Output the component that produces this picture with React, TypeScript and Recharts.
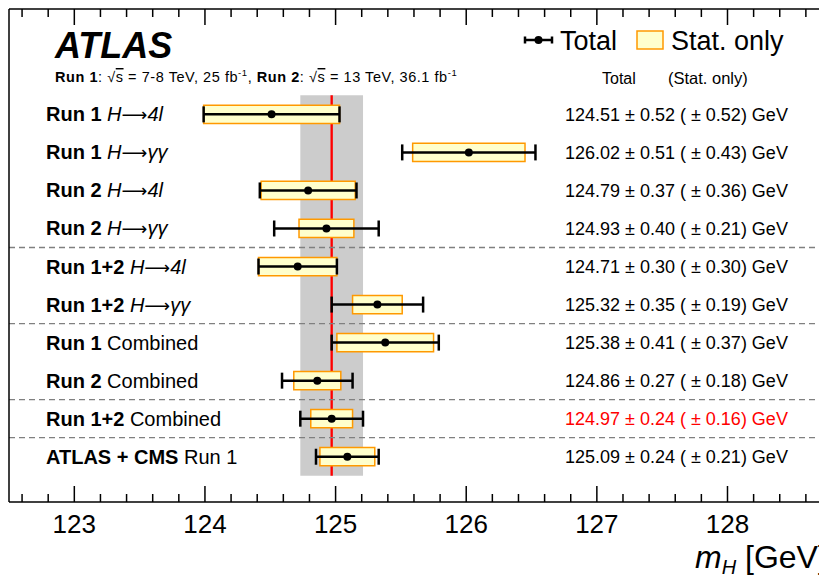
import React from 'react';
import {
  ComposedChart,
  XAxis,
  YAxis,
  Scatter,
  ErrorBar,
  ReferenceArea,
  ReferenceLine,
} from 'recharts';

// ---------------- data ----------------
const runLabels = [
  'Run 1',
  'Run 1',
  'Run 2',
  'Run 2',
  'Run 1+2',
  'Run 1+2',
  'Run 1',
  'Run 2',
  'Run 1+2',
  'ATLAS + CMS',
];
const channelHead = ['H', 'H', 'H', 'H', 'H', 'H', '', '', '', ''];
const channelTail = ['4l', '\u03b3\u03b3', '4l', '\u03b3\u03b3', '4l', '\u03b3\u03b3', 'Combined', 'Combined', 'Combined', 'Run 1'];
const centralValues = [124.51, 126.02, 124.79, 124.93, 124.71, 125.32, 125.38, 124.86, 124.97, 125.09];
const totalErrors = [0.52, 0.51, 0.37, 0.4, 0.3, 0.35, 0.41, 0.27, 0.24, 0.24];
const statErrors = [0.52, 0.43, 0.36, 0.21, 0.3, 0.19, 0.37, 0.18, 0.16, 0.21];
const rowIndex = [1, 2, 3, 4, 5, 6, 7, 8, 9, 10];
const separatorRows = [4.5, 6.5, 8.5, 9.5];
const highlightRow = 9; // Run 1+2 Combined (reference band)
const majorTicks = [123, 124, 125, 126, 127, 128];
const minorStep = 0.2;

const xDomain = [122.5, 128.8];
const yDomain = [-1.77, 11.19];

const CHART_W = 832;
const CHART_H = 576;
const MARGIN = { top: 8, right: 0, bottom: 73, left: 8 };
const AXIS_H = 1;
const PLOT_H = CHART_H - MARGIN.top - MARGIN.bottom - 2 * AXIS_H;

const FONT = '"Liberation Sans", Arial, Helvetica, sans-serif';

const allTicks: number[] = [];
for (let k = Math.ceil(xDomain[0] / minorStep); k * minorStep <= xDomain[1] + 1e-9; k++) {
  allTicks.push(Math.round(k * minorStep * 10) / 10);
}

const data = rowIndex.map((r, i) => ({
  x: centralValues[i],
  y: r,
  err: totalErrors[i],
}));

const fmt = (v: number) => v.toFixed(2);

const isMajor = (v: number) => majorTicks.some((m) => Math.abs(m - v) < 1e-6);

// bottom axis tick: inward tick mark + label, plus mirrored tick on the top frame
const FrameTick = (props: any) => {
  const { x, y, payload } = props;
  const v = payload.value;
  const major = isMajor(v);
  const len = major ? 16 : 8;
  const topY = y - PLOT_H;
  return (
    <g>
      <line x1={x} x2={x} y1={y} y2={y - len} stroke="#000" strokeWidth={1.5} />
      <line x1={x} x2={x} y1={topY} y2={topY + len} stroke="#000" strokeWidth={1.5} />
      {major && (
        <text x={x} y={y + 31} textAnchor="middle" fontSize={26} fontFamily={FONT} fill="#000">
          {Math.round(v)}
        </text>
      )}
    </g>
  );
};

const RowTick = (props: any) => {
  const { x, y, payload } = props;
  const i = rowIndex.indexOf(payload.value);
  if (i < 0) return null;
  const red = rowIndex[i] === highlightRow;
  const isDecay = channelHead[i] !== '';
  return (
    <g>
      <text x={x + 37} y={y + 7} fontSize={20} fontFamily={FONT} fill="#000" textAnchor="start">
        <tspan fontWeight="bold">{runLabels[i]}</tspan>
        {isDecay ? (
          <>
            <tspan fontStyle="italic">{' ' + channelHead[i]}</tspan>
            <tspan fontFamily='"DejaVu Sans", sans-serif' fontSize={18}>
              {'\u27f6'}
            </tspan>
            <tspan fontStyle="italic">{channelTail[i]}</tspan>
          </>
        ) : (
          <tspan>{' ' + channelTail[i]}</tspan>
        )}
      </text>
      <text
        x={x + 556}
        y={y + 6.5}
        fontSize={18}
        fontFamily={FONT}
        fill={red ? '#ff0000' : '#000'}
        textAnchor="start"
      >
        {`${fmt(centralValues[i])} \u00b1 ${fmt(totalErrors[i])} ( \u00b1 ${fmt(statErrors[i])}) GeV`}
      </text>
    </g>
  );
};

const Dot = (p: any) => <circle cx={p.cx} cy={p.cy} r={4} fill="#000" />;

const refIdx = rowIndex.indexOf(highlightRow);
const refValue = centralValues[refIdx];
const refErr = totalErrors[refIdx];
const refLineHalfWidth = 0.009;

export default function App() {
  return (
    <div
      style={{
        position: 'absolute',
        left: 0,
        top: 0,
        width: 819,
        height: 576,
        overflow: 'hidden',
        background: '#fff',
      }}
    >
      <ComposedChart width={CHART_W} height={CHART_H} data={data} margin={MARGIN}>
        <XAxis
          type="number"
          dataKey="x"
          domain={xDomain}
          allowDataOverflow
          ticks={allTicks}
          interval={0}
          height={AXIS_H}
          tickSize={0}
          tickMargin={0}
          tick={<FrameTick />}
          axisLine={{ stroke: '#000', strokeWidth: 1.5 }}
          tickLine={false}
        />
        <XAxis
          xAxisId="top"
          orientation="top"
          type="number"
          domain={xDomain}
          allowDataOverflow
          height={AXIS_H}
          tick={false}
          axisLine={{ stroke: '#000', strokeWidth: 1.5 }}
          tickLine={false}
        />
        <YAxis
          type="number"
          dataKey="y"
          domain={yDomain}
          allowDataOverflow
          reversed
          ticks={rowIndex}
          interval={0}
          width={1}
          tickSize={0}
          tickMargin={0}
          tick={<RowTick />}
          axisLine={{ stroke: '#000', strokeWidth: 1.5 }}
          tickLine={false}
        />
        <ReferenceArea
          x1={refValue - refErr}
          x2={refValue + refErr}
          y1={0.5}
          y2={10.5}
          fill="#cccccc"
          fillOpacity={1}
          stroke="none"
        />
        {separatorRows.map((r) => (
          <ReferenceLine key={r} y={r} stroke="#808080" strokeWidth={1.3} strokeDasharray="6 4" />
        ))}
        <ReferenceArea
          x1={refValue - refLineHalfWidth}
          x2={refValue + refLineHalfWidth}
          y1={0.5}
          y2={10.5}
          fill="#ff0000"
          fillOpacity={1}
          stroke="none"
        />
        {rowIndex.map((r, i) => (
          <ReferenceArea
            key={r}
            x1={centralValues[i] - statErrors[i]}
            x2={centralValues[i] + statErrors[i]}
            y1={r - 0.24}
            y2={r + 0.24}
            fill="#ffffcc"
            fillOpacity={1}
            stroke="#ff9900"
            strokeWidth={1.5}
          />
        ))}
        <Scatter data={data} dataKey="y" shape={<Dot />} isAnimationActive={false}>
          <ErrorBar dataKey="err" direction="x" width={8} strokeWidth={2.5} stroke="#000" isAnimationActive={false} />
        </Scatter>
      </ComposedChart>

      <svg
        width={819}
        height={576}
        style={{ position: 'absolute', left: 0, top: 0, pointerEvents: 'none' }}
        fontFamily={FONT}
      >
        <text x={55} y={58} fontSize={36} fontWeight="bold" fontStyle="italic" fill="#000">
          ATLAS
        </text>
        <text x={55} y={82} fontSize={14.5} letterSpacing={0.55} fill="#000">
          <tspan fontWeight="bold">Run 1</tspan>
          <tspan>: {'\u221a'}</tspan>
          <tspan textDecoration="overline">s</tspan>
          <tspan> = 7-8 TeV, 25 fb</tspan>
          <tspan fontSize={9.5} dy={-6}>-1</tspan>
          <tspan dy={6}>, </tspan>
          <tspan fontWeight="bold">Run 2</tspan>
          <tspan>: {'\u221a'}</tspan>
          <tspan textDecoration="overline">s</tspan>
          <tspan> = 13 TeV, 36.1 fb</tspan>
          <tspan fontSize={9.5} dy={-6}>-1</tspan>
        </text>

        {/* legend */}
        <line x1={525} x2={552} y1={40} y2={40} stroke="#000" strokeWidth={2.5} />
        <line x1={525} x2={525} y1={36.5} y2={43.5} stroke="#000" strokeWidth={2.5} />
        <line x1={552} x2={552} y1={36.5} y2={43.5} stroke="#000" strokeWidth={2.5} />
        <circle cx={538.5} cy={40} r={4} fill="#000" />
        <text x={560} y={50} fontSize={27} fill="#000">
          Total
        </text>
        <rect x={637} y={31} width={26} height={18} fill="#ffffcc" stroke="#ff9900" strokeWidth={1.5} />
        <text x={671} y={50} fontSize={27} fill="#000">
          Stat. only
        </text>

        <text x={602} y={84} fontSize={16} fill="#000">
          Total
        </text>
        <text x={668} y={84} fontSize={16.5} fill="#000">
          (Stat. only)
        </text>

        <text x={695} y={568} fontSize={32} fill="#000">
          <tspan fontStyle="italic">m</tspan>
          <tspan fontStyle="italic" fontSize={20} dy={6}>
            H
          </tspan>
          <tspan dy={-6}> [GeV]</tspan>
        </text>
      </svg>
    </div>
  );
}
